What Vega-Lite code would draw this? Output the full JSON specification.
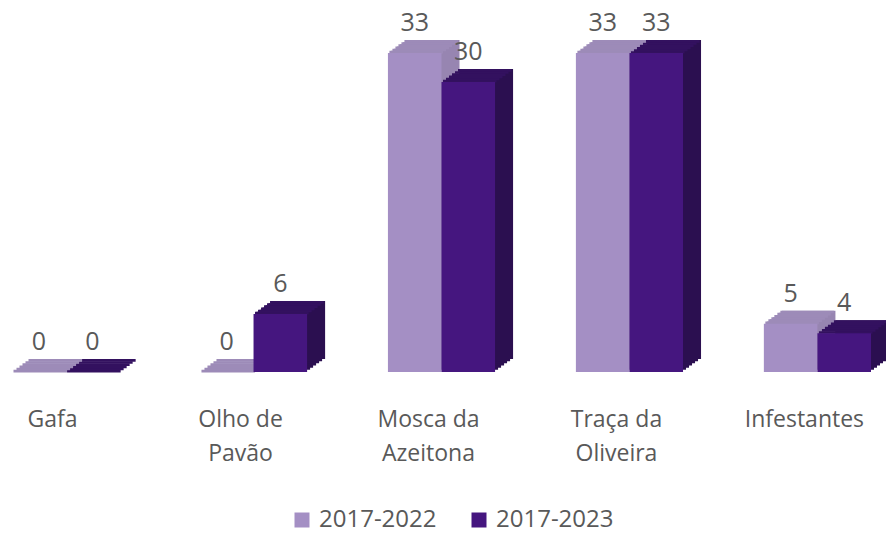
{
  "$schema": "https://vega.github.io/schema/vega-lite/v6.json",
  "autosize": "none",
  "width": 859,
  "height": 372,
  "padding": {"left": 12, "top": 0, "right": 15, "bottom": 161},
  "background": "#ffffff",
  "config": {"view": {"stroke": null}, "font": "Open Sans"},
  "data": {
    "values": [
      {"cat": "Gafa", "series": "2017-2022", "value": 0},
      {"cat": "Gafa", "series": "2017-2023", "value": 0},
      {"cat": "Olho de Pavão", "series": "2017-2022", "value": 0},
      {"cat": "Olho de Pavão", "series": "2017-2023", "value": 6},
      {"cat": "Mosca da Azeitona", "series": "2017-2022", "value": 33},
      {"cat": "Mosca da Azeitona", "series": "2017-2023", "value": 30},
      {"cat": "Traça da Oliveira", "series": "2017-2022", "value": 33},
      {"cat": "Traça da Oliveira", "series": "2017-2023", "value": 33},
      {"cat": "Infestantes", "series": "2017-2022", "value": 5},
      {"cat": "Infestantes", "series": "2017-2023", "value": 4}
    ]
  },
  "encoding": {
    "xOffset": {"field": "series", "type": "nominal", "scale": {"type": "band", "paddingInner": 0, "paddingOuter": 0}},
    "y": {"field": "value", "type": "quantitative", "scale": {"domain": [0, 38.48], "nice": false}, "axis": null}
  },
  "layer": [
    {"mark": {"type": "bar", "yOffset": -2.17, "y2Offset": -2.17},
     "encoding": {"x": {"field": "cat", "type": "nominal", "sort": null, "scale": {"type": "band", "paddingInner": 0.43, "paddingOuter": 0, "range": [3, 862]}, "axis": null},
       "y2": {"datum": 0},
       "fill": {"condition": {"test": "datum.series == '2017-2022'", "value": "#9785B1"}, "value": "#2B0F50"}}},
    {"mark": {"type": "bar", "yOffset": -4.33, "y2Offset": -4.33},
     "encoding": {"x": {"field": "cat", "type": "nominal", "sort": null, "scale": {"type": "band", "paddingInner": 0.43, "paddingOuter": 0, "range": [6, 865]}, "axis": null},
       "y2": {"datum": 0},
       "fill": {"condition": {"test": "datum.series == '2017-2022'", "value": "#9785B1"}, "value": "#2B0F50"}}},
    {"mark": {"type": "bar", "yOffset": -6.5, "y2Offset": -6.5},
     "encoding": {"x": {"field": "cat", "type": "nominal", "sort": null, "scale": {"type": "band", "paddingInner": 0.43, "paddingOuter": 0, "range": [9, 868]}, "axis": null},
       "y2": {"datum": 0},
       "fill": {"condition": {"test": "datum.series == '2017-2022'", "value": "#9785B1"}, "value": "#2B0F50"}}},
    {"mark": {"type": "bar", "yOffset": -8.67, "y2Offset": -8.67},
     "encoding": {"x": {"field": "cat", "type": "nominal", "sort": null, "scale": {"type": "band", "paddingInner": 0.43, "paddingOuter": 0, "range": [12, 871]}, "axis": null},
       "y2": {"datum": 0},
       "fill": {"condition": {"test": "datum.series == '2017-2022'", "value": "#9785B1"}, "value": "#2B0F50"}}},
    {"mark": {"type": "bar", "yOffset": -10.83, "y2Offset": -10.83},
     "encoding": {"x": {"field": "cat", "type": "nominal", "sort": null, "scale": {"type": "band", "paddingInner": 0.43, "paddingOuter": 0, "range": [15, 874]}, "axis": null},
       "y2": {"datum": 0},
       "fill": {"condition": {"test": "datum.series == '2017-2022'", "value": "#9785B1"}, "value": "#2B0F50"}}},
    {"mark": {"type": "bar", "yOffset": -13, "y2Offset": -13},
     "encoding": {"x": {"field": "cat", "type": "nominal", "sort": null, "scale": {"type": "band", "paddingInner": 0.43, "paddingOuter": 0, "range": [18, 877]}, "axis": null},
       "y2": {"datum": 0},
       "fill": {"condition": {"test": "datum.series == '2017-2022'", "value": "#9785B1"}, "value": "#2B0F50"}}},

    {"mark": {"type": "bar", "yOffset": -2.17, "y2Offset": 0.5},
     "encoding": {"x": {"field": "cat", "type": "nominal", "sort": null, "scale": {"type": "band", "paddingInner": 0.43, "paddingOuter": 0, "range": [1.5, 860.5]}, "axis": null},
       "y2": {"field": "value"},
       "fill": {"condition": {"test": "datum.series == '2017-2022'", "value": "#9D8BB8"}, "value": "#33115F"}}},
    {"mark": {"type": "bar", "yOffset": -4.33, "y2Offset": -1.67},
     "encoding": {"x": {"field": "cat", "type": "nominal", "sort": null, "scale": {"type": "band", "paddingInner": 0.43, "paddingOuter": 0, "range": [4.5, 863.5]}, "axis": null},
       "y2": {"field": "value"},
       "fill": {"condition": {"test": "datum.series == '2017-2022'", "value": "#9D8BB8"}, "value": "#33115F"}}},
    {"mark": {"type": "bar", "yOffset": -6.5, "y2Offset": -3.83},
     "encoding": {"x": {"field": "cat", "type": "nominal", "sort": null, "scale": {"type": "band", "paddingInner": 0.43, "paddingOuter": 0, "range": [7.5, 866.5]}, "axis": null},
       "y2": {"field": "value"},
       "fill": {"condition": {"test": "datum.series == '2017-2022'", "value": "#9D8BB8"}, "value": "#33115F"}}},
    {"mark": {"type": "bar", "yOffset": -8.67, "y2Offset": -6},
     "encoding": {"x": {"field": "cat", "type": "nominal", "sort": null, "scale": {"type": "band", "paddingInner": 0.43, "paddingOuter": 0, "range": [10.5, 869.5]}, "axis": null},
       "y2": {"field": "value"},
       "fill": {"condition": {"test": "datum.series == '2017-2022'", "value": "#9D8BB8"}, "value": "#33115F"}}},
    {"mark": {"type": "bar", "yOffset": -10.83, "y2Offset": -8.17},
     "encoding": {"x": {"field": "cat", "type": "nominal", "sort": null, "scale": {"type": "band", "paddingInner": 0.43, "paddingOuter": 0, "range": [13.5, 872.5]}, "axis": null},
       "y2": {"field": "value"},
       "fill": {"condition": {"test": "datum.series == '2017-2022'", "value": "#9D8BB8"}, "value": "#33115F"}}},
    {"mark": {"type": "bar", "yOffset": -13, "y2Offset": -10.33},
     "encoding": {"x": {"field": "cat", "type": "nominal", "sort": null, "scale": {"type": "band", "paddingInner": 0.43, "paddingOuter": 0, "range": [16.5, 875.5]}, "axis": null},
       "y2": {"field": "value"},
       "fill": {"condition": {"test": "datum.series == '2017-2022'", "value": "#9D8BB8"}, "value": "#33115F"}}},

    {
      "mark": {"type": "bar"},
      "encoding": {
        "x": {
          "field": "cat", "type": "nominal", "sort": null,
          "scale": {"type": "band", "paddingInner": 0.43, "paddingOuter": 0},
          "axis": {
            "title": null, "domain": false, "ticks": false, "labelAngle": 0,
            "labelFont": "Open Sans", "labelFontSize": 23, "labelColor": "#595959",
            "labelPadding": 36, "labelOffset": -13, "labelLineHeight": 34,
            "labelExpr": "indexof(datum.value,' ') > 0 ? [substring(datum.value,0,lastindexof(datum.value,' ')), substring(datum.value,lastindexof(datum.value,' ')+1)] : datum.value"
          }
        },
        "color": {
          "field": "series", "type": "nominal",
          "scale": {"range": ["#A48FC4", "#45167F"]},
          "legend": {
            "title": null, "orient": "none", "direction": "horizontal",
            "legendX": 278, "legendY": 508,
            "symbolType": "square", "symbolSize": 225, "symbolStrokeWidth": 0,
            "labelFont": "Open Sans", "labelFontSize": 24, "labelColor": "#595959",
            "labelOffset": 5, "columnPadding": 30
          }
        }
      }
    },
    {
      "mark": {"type": "text", "align": "center", "baseline": "alphabetic", "dy": -22, "font": "Open Sans", "fontSize": 25, "color": "#595959"},
      "encoding": {
        "x": {"field": "cat", "type": "nominal", "sort": null, "scale": {"type": "band", "paddingInner": 0.43, "paddingOuter": 0}, "axis": null},
        "text": {"field": "value", "type": "quantitative"}
      }
    }
  ],
  "resolve": {"scale": {"x": "independent", "xOffset": "independent"}}
}
